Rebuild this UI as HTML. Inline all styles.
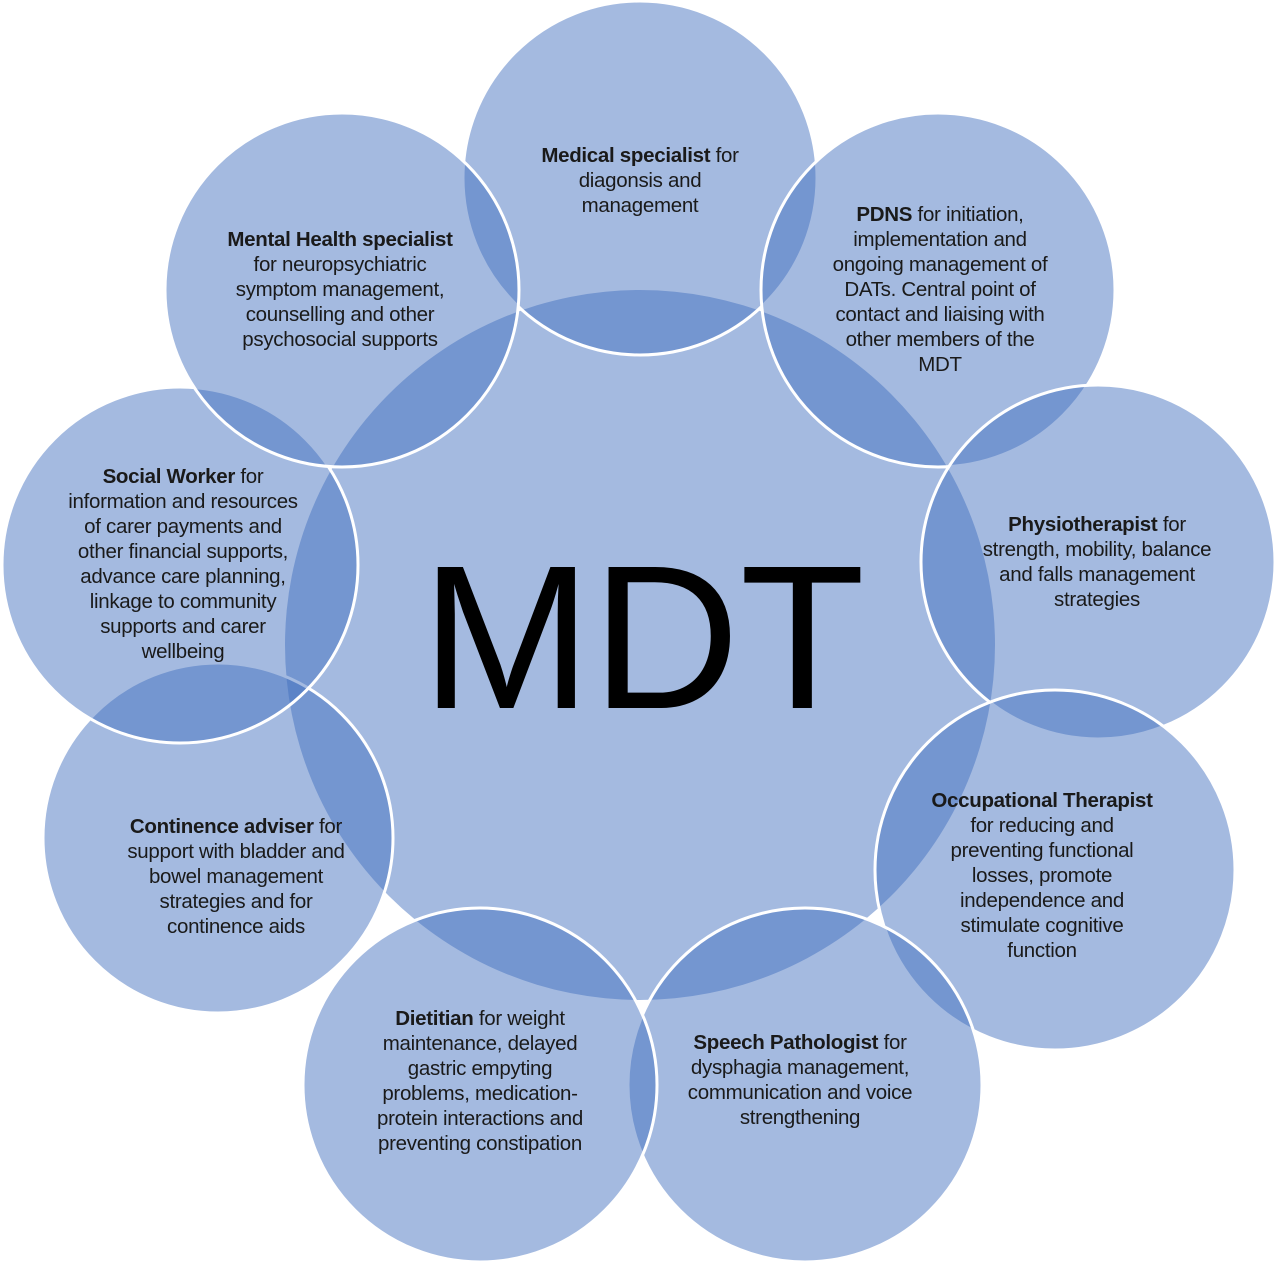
<!DOCTYPE html>
<html><head><meta charset="utf-8"><style>html,body{margin:0;padding:0;background:#fff}svg{display:block}
text{font-family:"Liberation Sans",sans-serif;font-size:20.5px;letter-spacing:-0.3px;fill:#1a1a1a;text-anchor:middle}
</style></head><body>
<svg width="1280" height="1265" viewBox="0 0 1280 1265" xmlns="http://www.w3.org/2000/svg">
<g fill="rgb(63,109,189)" fill-opacity="0.473">
<circle cx="640" cy="645" r="355"/>
</g>
<g fill="rgb(63,109,189)" fill-opacity="0.473" stroke="#fff" stroke-width="3">
<circle cx="640" cy="178" r="177"/>
<circle cx="938" cy="290" r="177"/>
<circle cx="1098" cy="562" r="177"/>
<circle cx="1055" cy="870" r="180"/>
<circle cx="805" cy="1085" r="177"/>
<circle cx="480" cy="1085" r="177"/>
<circle cx="218" cy="838" r="175"/>
<circle cx="180" cy="565" r="178"/>
<circle cx="342" cy="290" r="177"/>
</g>
<text x="640" y="162"><tspan font-weight="bold">Medical specialist</tspan> for</text>
<text x="640" y="187">diagonsis and</text>
<text x="640" y="212">management</text>

<text x="940" y="221"><tspan font-weight="bold">PDNS</tspan> for initiation,</text>
<text x="940" y="246">implementation and</text>
<text x="940" y="271">ongoing management of</text>
<text x="940" y="296">DATs. Central point of</text>
<text x="940" y="321">contact and liaising with</text>
<text x="940" y="346">other members of the</text>
<text x="940" y="371">MDT</text>

<text x="340" y="246" font-weight="bold">Mental Health specialist</text>
<text x="340" y="271">for neuropsychiatric</text>
<text x="340" y="296">symptom management,</text>
<text x="340" y="321">counselling and other</text>
<text x="340" y="346">psychosocial supports</text>

<text x="183" y="483"><tspan font-weight="bold">Social Worker</tspan> for</text>
<text x="183" y="508">information and resources</text>
<text x="183" y="533">of carer payments and</text>
<text x="183" y="558">other financial supports,</text>
<text x="183" y="583">advance care planning,</text>
<text x="183" y="608">linkage to community</text>
<text x="183" y="633">supports and carer</text>
<text x="183" y="658">wellbeing</text>

<text x="1097" y="531"><tspan font-weight="bold">Physiotherapist</tspan> for</text>
<text x="1097" y="556">strength, mobility, balance</text>
<text x="1097" y="581">and falls management</text>
<text x="1097" y="606">strategies</text>

<text x="1042" y="807" font-weight="bold">Occupational Therapist</text>
<text x="1042" y="832">for reducing and</text>
<text x="1042" y="857">preventing functional</text>
<text x="1042" y="882">losses, promote</text>
<text x="1042" y="907">independence and</text>
<text x="1042" y="932">stimulate cognitive</text>
<text x="1042" y="957">function</text>

<text x="236" y="833"><tspan font-weight="bold">Continence adviser</tspan> for</text>
<text x="236" y="858">support with bladder and</text>
<text x="236" y="883">bowel management</text>
<text x="236" y="908">strategies and for</text>
<text x="236" y="933">continence aids</text>

<text x="480" y="1025"><tspan font-weight="bold">Dietitian</tspan> for weight</text>
<text x="480" y="1050">maintenance, delayed</text>
<text x="480" y="1075">gastric empyting</text>
<text x="480" y="1100">problems, medication-</text>
<text x="480" y="1125">protein interactions and</text>
<text x="480" y="1150">preventing constipation</text>

<text x="800" y="1049"><tspan font-weight="bold">Speech Pathologist</tspan> for</text>
<text x="800" y="1074">dysphagia management,</text>
<text x="800" y="1099">communication and voice</text>
<text x="800" y="1124">strengthening</text>

<text x="643" y="708" style="font-size:205px;letter-spacing:0;fill:#000">MDT</text>
</svg>
</body></html>
